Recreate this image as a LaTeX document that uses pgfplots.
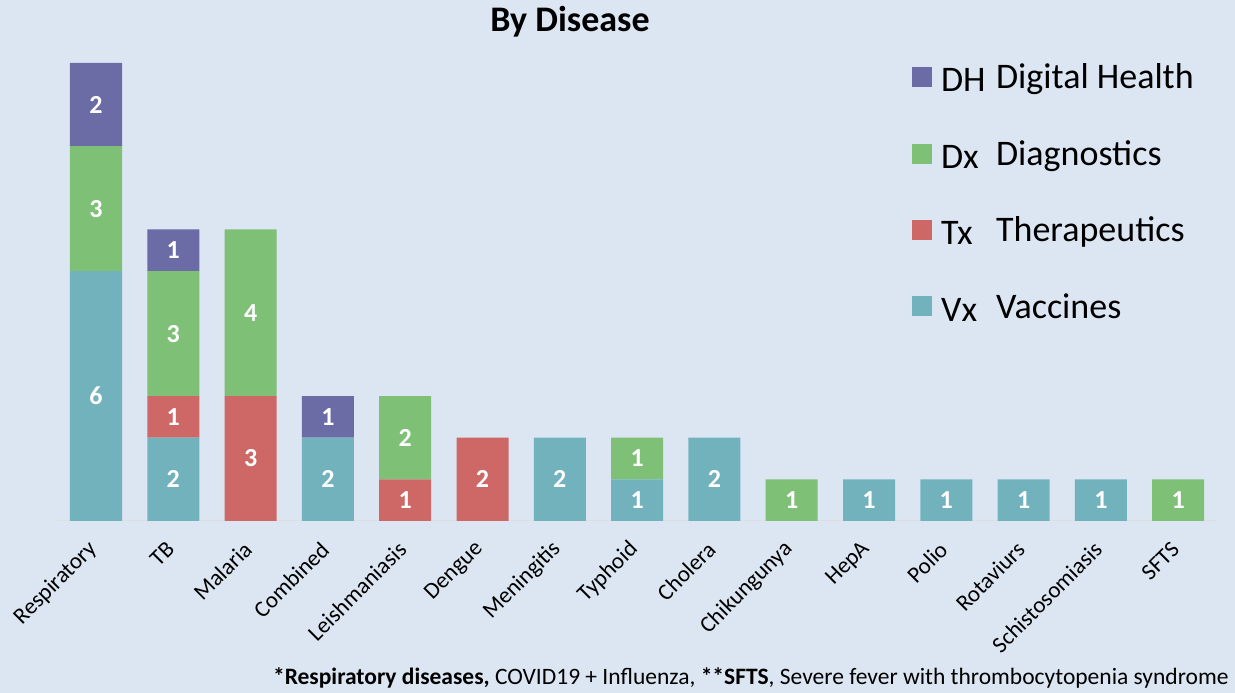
\documentclass[border=0pt]{standalone}
\usepackage{pgfplots}
\pgfplotsset{compat=1.18}
\usepackage{fontspec}
\setmainfont{Carlito}
\definecolor{bg}{HTML}{DCE6F2}
\definecolor{cDH}{HTML}{6B6BA5}
\definecolor{cDx}{HTML}{7FC077}
\definecolor{cTx}{HTML}{CD6866}
\definecolor{cVx}{HTML}{72B2BD}
\pgfplotstableread{
x Vx Tx Dx DH
0 6 0 3 2
1 2 1 3 1
2 0 3 4 0
3 2 0 0 1
4 0 1 2 0
5 0 2 0 0
6 2 0 0 0
7 1 0 1 0
8 2 0 0 0
9 0 0 1 0
10 1 0 0 0
11 1 0 0 0
12 1 0 0 0
13 1 0 0 0
14 0 0 1 0
}\datatable
\pgfplotsset{
  commonaxis/.style={
    at={(57.35pt,172pt)}, anchor=south west,
    scale only axis, width=1159.5pt, height=499.8pt,
    xmin=-0.5, xmax=14.5, ymin=0, ymax=12,
  }
}
\newcommand{\legtxt}[2]{\hspace{7pt}\makebox[55pt][l]{\raisebox{-3pt}{#1}}#2}
\begin{document}
\begin{tikzpicture}[x=1pt,y=1pt]
\fill[bg] (0,0) rectangle (1235,693);
\useasboundingbox (0,0) rectangle (1235,693);
\begin{axis}[
  commonaxis,
  ybar stacked, bar width=52pt,
  axis x line=bottom, axis y line=none,
  x axis line style={draw=black!13, -, line width=1pt},
  xtick={0,...,14},
  xticklabels={Respiratory,TB,Malaria,Combined,Leishmaniasis,Dengue,Meningitis,Typhoid,Cholera,Chikungunya,HepA,Polio,Rotaviurs,Schistosomiasis,SFTS},
  major tick length=0pt,
  xticklabel style={xshift=-2pt, yshift=-24pt, rotate=45, anchor=east, font=\fontsize{23}{26}\selectfont, inner sep=1pt},
  reverse legend,
  legend cell align=left,
  legend image code/.code={\fill[#1] (0pt,-10pt) rectangle (20pt,10pt);},
  legend style={at={(0.737,0.919)}, anchor=north west, draw=none, fill=none,
    font=\fontsize{36}{42}\selectfont, row sep=46pt, inner sep=0pt},
]
\addplot[fill=cVx, draw=none] table[x=x,y=Vx]{\datatable};
\addplot[fill=cTx, draw=none] table[x=x,y=Tx]{\datatable};
\addplot[fill=cDx, draw=none] table[x=x,y=Dx]{\datatable};
\addplot[fill=cDH, draw=none] table[x=x,y=DH]{\datatable};
\legend{\legtxt{Vx}{Vaccines},
        \legtxt{Tx}{Therapeutics},
        \legtxt{Dx}{Diagnostics},
        \legtxt{DH}{Digital Health}}
\end{axis}
\begin{axis}[commonaxis, hide axis]
\addplot[draw=none, nodes near coords, point meta=explicit symbolic,
  every node near coord/.style={anchor=center, text=white, font=\fontsize{26}{30}\selectfont\bfseries}]
  coordinates {
  (0,3) [6] (0,7.5) [3] (0,10) [2]
  (1,1) [2] (1,2.5) [1] (1,4.5) [3] (1,6.5) [1]
  (2,1.5) [3] (2,5) [4]
  (3,1) [2] (3,2.5) [1]
  (4,0.5) [1] (4,2) [2]
  (5,1) [2]
  (6,1) [2]
  (7,0.5) [1] (7,1.5) [1]
  (8,1) [2]
  (9,0.5) [1] (10,0.5) [1] (11,0.5) [1] (12,0.5) [1] (13,0.5) [1] (14,0.5) [1]
  };
\end{axis}
\node[font=\fontsize{36}{42}\selectfont\bfseries] at (570,671) {By Disease};
\node[anchor=base east, font=\fontsize{23.5}{27}\selectfont] at (1232,8)
  {\textbf{*Respiratory diseases,} COVID19 + Influenza, \textbf{**SFTS}, Severe fever with thrombocytopenia syndrome};
\end{tikzpicture}
\end{document}
